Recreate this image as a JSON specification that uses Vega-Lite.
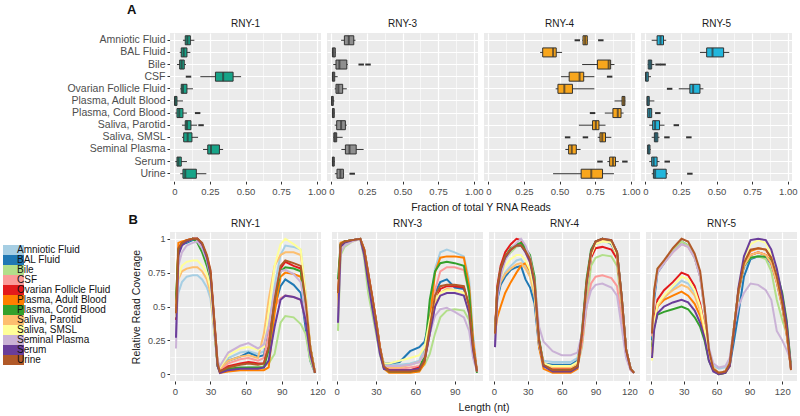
{
  "$schema": "https://vega.github.io/schema/vega-lite/v6.json",
  "background": "white",
  "padding": {"left": 3, "right": 4, "top": 4, "bottom": 1},
  "config": {
    "font": "Liberation Sans",
    "view": {"fill": "#EBEBEB", "stroke": null},
    "axis": {"domain": false, "gridColor": "#FFFFFF", "tickColor": "#333333", "tickSize": 3, "labelColor": "#4D4D4D", "labelFontSize": 9.5, "labelPadding": 2, "titleFontSize": 10.5, "titleFontWeight": "normal", "titleColor": "#1A1A1A"},
    "header": {"labelFontSize": 10, "labelColor": "#1A1A1A", "labelPadding": 4, "titleFontSize": 10.5, "titleFontWeight": "normal", "titleColor": "#1A1A1A"},
    "title": {"fontSize": 13, "fontWeight": "bold", "color": "#111111"},
    "concat": {"spacing": 0}
  },
  "datasets": {
    "boxes": [
      {"rna": "RNY-1", "fluid": "Amniotic Fluid", "lo": 0.061, "q1": 0.077, "med": 0.092, "q3": 0.113, "hi": 0.141, "outs": []},
      {"rna": "RNY-1", "fluid": "BAL Fluid", "lo": 0.038, "q1": 0.049, "med": 0.066, "q3": 0.089, "hi": 0.113, "outs": []},
      {"rna": "RNY-1", "fluid": "Bile", "lo": 0.019, "q1": 0.038, "med": 0.052, "q3": 0.07, "hi": 0.082, "outs": []},
      {"rna": "RNY-1", "fluid": "CSF", "lo": 0.183, "q1": 0.289, "med": 0.343, "q3": 0.413, "hi": 0.469, "outs": [0.1]},
      {"rna": "RNY-1", "fluid": "Ovarian Follicle Fluid", "lo": 0.042, "q1": 0.049, "med": 0.061, "q3": 0.089, "hi": 0.131, "outs": []},
      {"rna": "RNY-1", "fluid": "Plasma, Adult Blood", "lo": 0.0, "q1": 0.002, "med": 0.008, "q3": 0.019, "hi": 0.061, "outs": []},
      {"rna": "RNY-1", "fluid": "Plasma, Cord Blood", "lo": 0.007, "q1": 0.019, "med": 0.035, "q3": 0.061, "hi": 0.089, "outs": [0.164]},
      {"rna": "RNY-1", "fluid": "Saliva, Parotid", "lo": 0.054, "q1": 0.077, "med": 0.089, "q3": 0.117, "hi": 0.16, "outs": [0.188]},
      {"rna": "RNY-1", "fluid": "Saliva, SMSL", "lo": 0.054, "q1": 0.066, "med": 0.094, "q3": 0.124, "hi": 0.167, "outs": []},
      {"rna": "RNY-1", "fluid": "Seminal Plasma", "lo": 0.202, "q1": 0.235, "med": 0.258, "q3": 0.317, "hi": 0.343, "outs": []},
      {"rna": "RNY-1", "fluid": "Serum", "lo": 0.007, "q1": 0.019, "med": 0.03, "q3": 0.049, "hi": 0.089, "outs": []},
      {"rna": "RNY-1", "fluid": "Urine", "lo": 0.042, "q1": 0.061, "med": 0.077, "q3": 0.155, "hi": 0.225, "outs": []},
      {"rna": "RNY-3", "fluid": "Amniotic Fluid", "lo": 0.069, "q1": 0.092, "med": 0.123, "q3": 0.158, "hi": 0.17, "outs": []},
      {"rna": "RNY-3", "fluid": "BAL Fluid", "lo": 0.005, "q1": 0.008, "med": 0.015, "q3": 0.028, "hi": 0.03, "outs": []},
      {"rna": "RNY-3", "fluid": "Bile", "lo": 0.014, "q1": 0.033, "med": 0.057, "q3": 0.109, "hi": 0.116, "outs": [0.21, 0.258]},
      {"rna": "RNY-3", "fluid": "CSF", "lo": 0.005, "q1": 0.008, "med": 0.012, "q3": 0.024, "hi": 0.045, "outs": []},
      {"rna": "RNY-3", "fluid": "Ovarian Follicle Fluid", "lo": 0.024, "q1": 0.033, "med": 0.05, "q3": 0.08, "hi": 0.109, "outs": []},
      {"rna": "RNY-3", "fluid": "Plasma, Adult Blood", "lo": 0.0, "q1": 0.002, "med": 0.006, "q3": 0.014, "hi": 0.022, "outs": []},
      {"rna": "RNY-3", "fluid": "Plasma, Cord Blood", "lo": 0.005, "q1": 0.008, "med": 0.012, "q3": 0.021, "hi": 0.024, "outs": []},
      {"rna": "RNY-3", "fluid": "Saliva, Parotid", "lo": 0.024, "q1": 0.038, "med": 0.069, "q3": 0.099, "hi": 0.109, "outs": []},
      {"rna": "RNY-3", "fluid": "Saliva, SMSL", "lo": 0.014, "q1": 0.018, "med": 0.026, "q3": 0.038, "hi": 0.08, "outs": []},
      {"rna": "RNY-3", "fluid": "Seminal Plasma", "lo": 0.071, "q1": 0.099, "med": 0.128, "q3": 0.175, "hi": 0.227, "outs": []},
      {"rna": "RNY-3", "fluid": "Serum", "lo": 0.005, "q1": 0.008, "med": 0.012, "q3": 0.021, "hi": 0.024, "outs": []},
      {"rna": "RNY-3", "fluid": "Urine", "lo": 0.025, "q1": 0.04, "med": 0.064, "q3": 0.085, "hi": 0.09, "outs": [0.147]},
      {"rna": "RNY-4", "fluid": "Amniotic Fluid", "lo": 0.66, "q1": 0.665, "med": 0.68, "q3": 0.695, "hi": 0.7, "outs": [0.625, 0.79]},
      {"rna": "RNY-4", "fluid": "BAL Fluid", "lo": 0.364, "q1": 0.382, "med": 0.455, "q3": 0.477, "hi": 0.518, "outs": []},
      {"rna": "RNY-4", "fluid": "Bile", "lo": 0.659, "q1": 0.766, "med": 0.845, "q3": 0.859, "hi": 0.886, "outs": []},
      {"rna": "RNY-4", "fluid": "CSF", "lo": 0.511, "q1": 0.568, "med": 0.641, "q3": 0.67, "hi": 0.745, "outs": [0.852]},
      {"rna": "RNY-4", "fluid": "Ovarian Follicle Fluid", "lo": 0.473, "q1": 0.489, "med": 0.534, "q3": 0.591, "hi": 0.745, "outs": []},
      {"rna": "RNY-4", "fluid": "Plasma, Adult Blood", "lo": 0.886, "q1": 0.939, "med": 0.95, "q3": 0.959, "hi": 0.962, "outs": []},
      {"rna": "RNY-4", "fluid": "Plasma, Cord Blood", "lo": 0.818, "q1": 0.875, "med": 0.909, "q3": 0.932, "hi": 0.95, "outs": [0.732]},
      {"rna": "RNY-4", "fluid": "Saliva, Parotid", "lo": 0.636, "q1": 0.732, "med": 0.755, "q3": 0.777, "hi": 0.823, "outs": []},
      {"rna": "RNY-4", "fluid": "Saliva, SMSL", "lo": 0.768, "q1": 0.784, "med": 0.8, "q3": 0.823, "hi": 0.864, "outs": [0.557, 0.682]},
      {"rna": "RNY-4", "fluid": "Seminal Plasma", "lo": 0.541, "q1": 0.564, "med": 0.586, "q3": 0.618, "hi": 0.648, "outs": []},
      {"rna": "RNY-4", "fluid": "Serum", "lo": 0.836, "q1": 0.852, "med": 0.875, "q3": 0.893, "hi": 0.916, "outs": [0.784, 0.959]},
      {"rna": "RNY-4", "fluid": "Urine", "lo": 0.455, "q1": 0.652, "med": 0.723, "q3": 0.802, "hi": 0.882, "outs": []},
      {"rna": "RNY-5", "fluid": "Amniotic Fluid", "lo": 0.045, "q1": 0.083, "med": 0.107, "q3": 0.128, "hi": 0.147, "outs": []},
      {"rna": "RNY-5", "fluid": "BAL Fluid", "lo": 0.384, "q1": 0.431, "med": 0.472, "q3": 0.55, "hi": 0.59, "outs": []},
      {"rna": "RNY-5", "fluid": "Bile", "lo": 0.017, "q1": 0.021, "med": 0.033, "q3": 0.045, "hi": 0.064, "outs": [0.09, 0.125]},
      {"rna": "RNY-5", "fluid": "CSF", "lo": 0.0, "q1": 0.002, "med": 0.008, "q3": 0.021, "hi": 0.04, "outs": []},
      {"rna": "RNY-5", "fluid": "Ovarian Follicle Fluid", "lo": 0.235, "q1": 0.313, "med": 0.336, "q3": 0.384, "hi": 0.408, "outs": [0.171]},
      {"rna": "RNY-5", "fluid": "Plasma, Adult Blood", "lo": 0.012, "q1": 0.012, "med": 0.018, "q3": 0.028, "hi": 0.064, "outs": []},
      {"rna": "RNY-5", "fluid": "Plasma, Cord Blood", "lo": 0.017, "q1": 0.017, "med": 0.03, "q3": 0.045, "hi": 0.045, "outs": [0.088]},
      {"rna": "RNY-5", "fluid": "Saliva, Parotid", "lo": 0.028, "q1": 0.052, "med": 0.069, "q3": 0.1, "hi": 0.135, "outs": [0.218]},
      {"rna": "RNY-5", "fluid": "Saliva, SMSL", "lo": 0.045, "q1": 0.064, "med": 0.075, "q3": 0.088, "hi": 0.1, "outs": [0.152, 0.306]},
      {"rna": "RNY-5", "fluid": "Seminal Plasma", "lo": 0.017, "q1": 0.017, "med": 0.022, "q3": 0.033, "hi": 0.038, "outs": []},
      {"rna": "RNY-5", "fluid": "Serum", "lo": 0.028, "q1": 0.045, "med": 0.059, "q3": 0.083, "hi": 0.1, "outs": [0.154]},
      {"rna": "RNY-5", "fluid": "Urine", "lo": 0.045, "q1": 0.057, "med": 0.069, "q3": 0.147, "hi": 0.159, "outs": [0.313]}
    ],
    "lines": [
      {"rna": "RNY-1", "fluid": "Amniotic Fluid", "x": [1,3,6,10,15,19,23,27,30,33,36,38,45,55,62,70,75,79,84,89,93,100,106,110,114,118], "y": [0.45,0.6,0.68,0.72,0.73,0.73,0.70,0.64,0.56,0.32,0.08,0.05,0.12,0.16,0.17,0.15,0.17,0.35,0.65,0.88,0.95,0.94,0.92,0.6,0.2,0.01]},
      {"rna": "RNY-1", "fluid": "BAL Fluid", "x": [1,3,6,10,15,19,23,27,30,33,36,38,45,55,62,70,75,79,84,89,93,100,106,110,114,118], "y": [0.4,0.9,0.96,0.97,0.99,1.0,0.95,0.86,0.74,0.4,0.08,0.03,0.1,0.13,0.16,0.13,0.14,0.3,0.5,0.65,0.7,0.66,0.6,0.35,0.1,0.01]},
      {"rna": "RNY-1", "fluid": "Bile", "x": [1,3,6,10,15,19,23,27,30,33,36,38,45,55,62,70,75,79,84,89,93,100,106,110,114,118], "y": [0.5,0.92,0.96,0.98,1.0,0.99,0.94,0.84,0.72,0.38,0.07,0.02,0.03,0.04,0.05,0.05,0.06,0.08,0.15,0.38,0.43,0.42,0.37,0.3,0.1,0.01]},
      {"rna": "RNY-1", "fluid": "CSF", "x": [1,3,6,10,15,19,23,27,30,33,36,38,45,55,62,70,75,79,84,89,93,100,106,110,114,118], "y": [0.45,0.92,0.96,0.98,1.0,1.0,0.95,0.85,0.73,0.4,0.08,0.03,0.08,0.11,0.12,0.1,0.12,0.3,0.5,0.56,0.58,0.57,0.55,0.4,0.15,0.01]},
      {"rna": "RNY-1", "fluid": "Ovarian Follicle Fluid", "x": [1,3,6,10,15,19,23,27,30,33,36,38,45,55,62,70,75,79,84,89,93,100,106,110,114,118], "y": [0.4,0.93,0.97,0.99,1.0,1.0,0.96,0.87,0.76,0.42,0.08,0.02,0.06,0.08,0.09,0.08,0.08,0.2,0.55,0.78,0.83,0.8,0.78,0.55,0.2,0.01]},
      {"rna": "RNY-1", "fluid": "Plasma, Adult Blood", "x": [1,3,6,10,15,19,23,27,30,33,36,38,45,55,62,70,75,79,84,89,93,100,106,110,114,118], "y": [0.5,0.97,0.98,0.99,1.0,1.0,0.96,0.86,0.74,0.4,0.06,0.01,0.02,0.03,0.03,0.03,0.03,0.05,0.45,0.72,0.75,0.74,0.72,0.5,0.2,0.01]},
      {"rna": "RNY-1", "fluid": "Plasma, Cord Blood", "x": [1,3,6,10,15,19,23,27,30,33,36,38,45,55,62,70,75,79,84,89,93,100,106,110,114,118], "y": [0.55,0.92,0.96,0.98,1.0,0.97,0.9,0.8,0.7,0.36,0.06,0.02,0.04,0.05,0.05,0.05,0.05,0.18,0.55,0.76,0.79,0.78,0.76,0.5,0.2,0.01]},
      {"rna": "RNY-1", "fluid": "Saliva, Parotid", "x": [1,3,6,10,15,19,23,27,30,33,36,38,45,55,62,70,75,79,84,89,93,100,106,110,114,118], "y": [0.52,0.7,0.76,0.78,0.79,0.79,0.76,0.7,0.6,0.34,0.08,0.04,0.1,0.13,0.14,0.12,0.3,0.55,0.8,0.88,0.9,0.9,0.88,0.6,0.2,0.01]},
      {"rna": "RNY-1", "fluid": "Saliva, SMSL", "x": [1,3,6,10,15,19,23,27,30,33,36,38,45,55,62,70,75,79,84,89,93,100,106,110,114,118], "y": [0.42,0.72,0.8,0.83,0.84,0.84,0.8,0.74,0.64,0.36,0.09,0.05,0.14,0.19,0.2,0.18,0.2,0.45,0.8,0.96,1.0,0.96,0.92,0.6,0.2,0.01]},
      {"rna": "RNY-1", "fluid": "Seminal Plasma", "x": [1,3,6,10,15,19,23,27,30,33,36,38,45,55,62,70,75,79,84,89,93,100,106,110,114,118], "y": [0.19,0.8,0.9,0.95,0.97,0.98,0.93,0.84,0.72,0.4,0.1,0.06,0.16,0.21,0.23,0.19,0.22,0.36,0.62,0.76,0.77,0.74,0.68,0.45,0.15,0.01]},
      {"rna": "RNY-1", "fluid": "Serum", "x": [1,3,6,10,15,19,23,27,30,33,36,38,45,55,62,70,75,79,84,89,93,100,106,110,114,118], "y": [0.27,0.88,0.95,0.98,1.0,1.0,0.96,0.86,0.74,0.4,0.06,0.01,0.03,0.04,0.04,0.04,0.05,0.1,0.35,0.55,0.58,0.57,0.55,0.4,0.15,0.01]},
      {"rna": "RNY-1", "fluid": "Urine", "x": [1,3,6,10,15,19,23,27,30,33,36,38,45,55,62,70,75,79,84,89,93,100,106,110,114,118], "y": [0.45,0.93,0.97,0.99,1.0,1.0,0.97,0.88,0.77,0.43,0.08,0.02,0.05,0.07,0.08,0.07,0.08,0.2,0.55,0.8,0.84,0.82,0.8,0.55,0.2,0.01]},
      {"rna": "RNY-3", "fluid": "Amniotic Fluid", "x": [1,3,6,12,18,21,24,27,30,33,36,40,48,56,63,67,71,75,79,84,90,97,101,104,107], "y": [0.5,0.95,0.98,0.99,1.0,0.9,0.72,0.55,0.38,0.18,0.07,0.07,0.07,0.08,0.1,0.2,0.5,0.78,0.9,0.92,0.9,0.87,0.7,0.3,0.02]},
      {"rna": "RNY-3", "fluid": "BAL Fluid", "x": [1,3,6,12,18,21,24,27,30,33,36,40,48,56,63,67,71,75,79,84,90,97,101,104,107], "y": [0.45,0.95,0.98,0.99,1.0,0.88,0.7,0.52,0.36,0.17,0.08,0.08,0.09,0.17,0.2,0.24,0.4,0.6,0.68,0.7,0.64,0.63,0.5,0.2,0.02]},
      {"rna": "RNY-3", "fluid": "Bile", "x": [1,3,6,12,18,21,24,27,30,33,36,40,48,56,63,67,71,75,79,84,90,97,101,104,107], "y": [0.32,0.88,0.94,0.98,1.0,0.85,0.6,0.45,0.3,0.14,0.05,0.03,0.03,0.03,0.04,0.07,0.15,0.3,0.42,0.47,0.48,0.47,0.4,0.15,0.02]},
      {"rna": "RNY-3", "fluid": "CSF", "x": [1,3,6,12,18,21,24,27,30,33,36,40,48,56,63,67,71,75,79,84,90,97,101,104,107], "y": [0.5,0.95,0.98,0.99,1.0,0.9,0.72,0.55,0.38,0.18,0.06,0.04,0.04,0.05,0.06,0.12,0.35,0.62,0.76,0.79,0.79,0.77,0.6,0.25,0.02]},
      {"rna": "RNY-3", "fluid": "Ovarian Follicle Fluid", "x": [1,3,6,12,18,21,24,27,30,33,36,40,48,56,63,67,71,75,79,84,90,97,101,104,107], "y": [0.55,0.96,0.98,0.99,1.0,0.92,0.75,0.58,0.4,0.2,0.06,0.03,0.03,0.03,0.05,0.1,0.3,0.52,0.63,0.65,0.65,0.64,0.5,0.2,0.02]},
      {"rna": "RNY-3", "fluid": "Plasma, Adult Blood", "x": [1,3,6,12,18,21,24,27,30,33,36,40,48,56,63,67,71,75,79,84,90,97,101,104,107], "y": [0.55,0.97,0.98,0.99,1.0,0.92,0.74,0.57,0.4,0.19,0.04,0.01,0.01,0.01,0.02,0.08,0.4,0.75,0.86,0.87,0.87,0.86,0.65,0.25,0.02]},
      {"rna": "RNY-3", "fluid": "Plasma, Cord Blood", "x": [1,3,6,12,18,21,24,27,30,33,36,40,48,56,63,67,71,75,79,84,90,97,101,104,107], "y": [0.7,0.96,0.98,0.99,1.0,0.9,0.72,0.55,0.38,0.17,0.05,0.02,0.02,0.02,0.03,0.15,0.55,0.76,0.82,0.83,0.82,0.8,0.6,0.2,0.01]},
      {"rna": "RNY-3", "fluid": "Saliva, Parotid", "x": [1,3,6,12,18,21,24,27,30,33,36,40,48,56,63,67,71,75,79,84,90,97,101,104,107], "y": [0.5,0.93,0.97,0.99,1.0,0.9,0.72,0.55,0.38,0.18,0.06,0.05,0.05,0.07,0.09,0.15,0.35,0.52,0.6,0.63,0.62,0.6,0.45,0.18,0.02]},
      {"rna": "RNY-3", "fluid": "Saliva, SMSL", "x": [1,3,6,12,18,21,24,27,30,33,36,40,48,56,63,67,71,75,79,84,90,97,101,104,107], "y": [0.45,0.92,0.96,0.98,1.0,0.9,0.72,0.55,0.38,0.18,0.08,0.08,0.1,0.12,0.14,0.2,0.4,0.55,0.6,0.62,0.62,0.6,0.45,0.18,0.02]},
      {"rna": "RNY-3", "fluid": "Seminal Plasma", "x": [1,3,6,12,18,21,24,27,30,33,36,40,48,56,63,67,71,75,79,84,90,97,101,104,107], "y": [0.38,0.9,0.95,0.98,1.0,0.88,0.7,0.5,0.33,0.15,0.06,0.06,0.06,0.07,0.09,0.15,0.3,0.43,0.48,0.49,0.46,0.42,0.32,0.12,0.02]},
      {"rna": "RNY-3", "fluid": "Serum", "x": [1,3,6,12,18,21,24,27,30,33,36,40,48,56,63,67,71,75,79,84,90,97,101,104,107], "y": [0.38,0.94,0.97,0.99,1.0,0.88,0.68,0.5,0.33,0.15,0.04,0.03,0.03,0.03,0.04,0.1,0.3,0.5,0.58,0.6,0.6,0.58,0.45,0.18,0.02]},
      {"rna": "RNY-3", "fluid": "Urine", "x": [1,3,6,12,18,21,24,27,30,33,36,40,48,56,63,67,71,75,79,84,90,97,101,104,107], "y": [0.6,0.96,0.98,0.99,1.0,0.92,0.75,0.58,0.4,0.2,0.06,0.02,0.02,0.02,0.03,0.1,0.35,0.58,0.65,0.66,0.66,0.65,0.5,0.2,0.02]},
      {"rna": "RNY-4", "fluid": "Amniotic Fluid", "x": [1,3,6,10,15,20,24,28,32,36,40,44,52,60,68,74,78,82,86,90,96,104,109,113,117,121,124], "y": [0.3,0.55,0.68,0.75,0.8,0.84,0.85,0.8,0.72,0.58,0.22,0.1,0.09,0.09,0.09,0.12,0.3,0.65,0.88,0.96,0.98,0.97,0.88,0.55,0.18,0.04,0.01]},
      {"rna": "RNY-4", "fluid": "BAL Fluid", "x": [1,3,6,10,15,20,24,28,32,36,40,44,52,60,68,74,78,82,86,90,96,104,109,113,117,121,124], "y": [0.35,0.55,0.66,0.72,0.77,0.79,0.8,0.7,0.64,0.52,0.2,0.08,0.07,0.07,0.07,0.1,0.28,0.62,0.88,0.97,1.0,0.96,0.88,0.55,0.18,0.04,0.01]},
      {"rna": "RNY-4", "fluid": "Bile", "x": [1,3,6,10,15,20,24,28,32,36,40,44,52,60,68,74,78,82,86,90,96,104,109,113,117,121,124], "y": [0.28,0.6,0.75,0.85,0.9,0.94,0.95,0.9,0.83,0.65,0.25,0.07,0.04,0.04,0.05,0.06,0.2,0.5,0.8,0.86,0.88,0.87,0.8,0.5,0.15,0.04,0.01]},
      {"rna": "RNY-4", "fluid": "CSF", "x": [1,3,6,10,15,20,24,28,32,36,40,44,52,60,68,74,78,82,86,90,96,104,109,113,117,121,124], "y": [0.3,0.62,0.77,0.86,0.92,0.96,0.96,0.9,0.82,0.65,0.24,0.07,0.04,0.04,0.04,0.06,0.22,0.5,0.67,0.72,0.73,0.71,0.65,0.4,0.14,0.03,0.01]},
      {"rna": "RNY-4", "fluid": "Ovarian Follicle Fluid", "x": [1,3,6,10,15,20,24,28,32,36,40,44,52,60,68,74,78,82,86,90,96,104,109,113,117,121,124], "y": [0.32,0.65,0.8,0.9,0.96,1.0,0.99,0.92,0.84,0.68,0.24,0.07,0.04,0.04,0.04,0.06,0.28,0.64,0.86,0.93,0.94,0.92,0.85,0.55,0.18,0.04,0.01]},
      {"rna": "RNY-4", "fluid": "Plasma, Adult Blood", "x": [1,3,6,10,15,20,24,28,32,36,40,44,52,60,68,74,78,82,86,90,96,104,109,113,117,121,124], "y": [0.3,0.42,0.5,0.6,0.68,0.75,0.8,0.82,0.76,0.6,0.2,0.04,0.01,0.01,0.01,0.04,0.28,0.66,0.9,0.98,1.0,0.98,0.9,0.58,0.18,0.04,0.01]},
      {"rna": "RNY-4", "fluid": "Plasma, Cord Blood", "x": [1,3,6,10,15,20,24,28,32,36,40,44,52,60,68,74,78,82,86,90,96,104,109,113,117,121,124], "y": [0.3,0.62,0.78,0.87,0.93,0.96,0.97,0.93,0.88,0.72,0.26,0.07,0.03,0.03,0.03,0.06,0.32,0.7,0.92,0.98,1.0,0.98,0.9,0.58,0.18,0.04,0.01]},
      {"rna": "RNY-4", "fluid": "Saliva, Parotid", "x": [1,3,6,10,15,20,24,28,32,36,40,44,52,60,68,74,78,82,86,90,96,104,109,113,117,121,124], "y": [0.28,0.58,0.68,0.74,0.78,0.81,0.82,0.78,0.72,0.58,0.22,0.08,0.05,0.05,0.05,0.08,0.28,0.64,0.88,0.97,0.99,0.97,0.88,0.55,0.18,0.04,0.01]},
      {"rna": "RNY-4", "fluid": "Saliva, SMSL", "x": [1,3,6,10,15,20,24,28,32,36,40,44,52,60,68,74,78,82,86,90,96,104,109,113,117,121,124], "y": [0.28,0.6,0.72,0.8,0.85,0.88,0.88,0.84,0.77,0.62,0.23,0.08,0.06,0.06,0.06,0.09,0.3,0.64,0.88,0.96,0.98,0.97,0.88,0.56,0.18,0.04,0.01]},
      {"rna": "RNY-4", "fluid": "Seminal Plasma", "x": [1,3,6,10,15,20,24,28,32,36,40,44,52,60,68,74,78,82,86,90,96,104,109,113,117,121,124], "y": [0.2,0.55,0.72,0.84,0.92,0.97,1.0,0.95,0.86,0.68,0.35,0.24,0.17,0.14,0.14,0.16,0.3,0.5,0.62,0.66,0.67,0.64,0.58,0.35,0.12,0.03,0.01]},
      {"rna": "RNY-4", "fluid": "Serum", "x": [1,3,6,10,15,20,24,28,32,36,40,44,52,60,68,74,78,82,86,90,96,104,109,113,117,121,124], "y": [0.2,0.6,0.77,0.86,0.92,0.95,0.95,0.9,0.83,0.66,0.24,0.06,0.02,0.02,0.02,0.05,0.3,0.66,0.9,0.98,1.0,0.99,0.9,0.58,0.18,0.04,0.01]},
      {"rna": "RNY-4", "fluid": "Urine", "x": [1,3,6,10,15,20,24,28,32,36,40,44,52,60,68,74,78,82,86,90,96,104,109,113,117,121,124], "y": [0.3,0.63,0.78,0.87,0.92,0.95,0.95,0.91,0.85,0.68,0.25,0.07,0.03,0.03,0.03,0.06,0.3,0.68,0.9,0.98,1.0,0.99,0.9,0.58,0.18,0.04,0.01]},
      {"rna": "RNY-5", "fluid": "Amniotic Fluid", "x": [1,3,6,12,20,28,34,40,45,49,53,57,62,68,72,76,80,85,91,98,105,110,115,120,124,128], "y": [0.15,0.35,0.5,0.56,0.63,0.69,0.67,0.6,0.48,0.32,0.14,0.06,0.04,0.05,0.1,0.35,0.6,0.78,0.85,0.87,0.86,0.8,0.68,0.5,0.3,0.04]},
      {"rna": "RNY-5", "fluid": "BAL Fluid", "x": [1,3,6,12,20,28,34,40,45,49,53,57,62,68,72,76,80,85,91,98,105,110,115,120,124,128], "y": [0.25,0.55,0.75,0.82,0.92,0.98,0.95,0.86,0.72,0.48,0.17,0.04,0.01,0.02,0.06,0.25,0.45,0.72,0.85,0.87,0.86,0.82,0.7,0.52,0.32,0.04]},
      {"rna": "RNY-5", "fluid": "Bile", "x": [1,3,6,12,20,28,34,40,45,49,53,57,62,68,72,76,80,85,91,98,105,110,115,120,124,128], "y": [0.3,0.62,0.78,0.83,0.92,0.98,0.95,0.86,0.73,0.48,0.17,0.04,0.01,0.02,0.08,0.35,0.6,0.8,0.86,0.87,0.85,0.76,0.55,0.4,0.3,0.06]},
      {"rna": "RNY-5", "fluid": "CSF", "x": [1,3,6,12,20,28,34,40,45,49,53,57,62,68,72,76,80,85,91,98,105,110,115,120,124,128], "y": [0.28,0.6,0.76,0.82,0.9,0.96,0.94,0.86,0.72,0.48,0.17,0.04,0.01,0.02,0.08,0.35,0.6,0.8,0.88,0.9,0.88,0.82,0.7,0.52,0.32,0.05]},
      {"rna": "RNY-5", "fluid": "Ovarian Follicle Fluid", "x": [1,3,6,12,20,28,34,40,45,49,53,57,62,68,72,76,80,85,91,98,105,110,115,120,124,128], "y": [0.15,0.4,0.55,0.62,0.68,0.75,0.73,0.65,0.52,0.35,0.15,0.05,0.01,0.02,0.08,0.35,0.62,0.8,0.88,0.9,0.88,0.82,0.68,0.5,0.3,0.04]},
      {"rna": "RNY-5", "fluid": "Plasma, Adult Blood", "x": [1,3,6,12,20,28,34,40,45,49,53,57,62,68,72,76,80,85,91,98,105,110,115,120,124,128], "y": [0.15,0.38,0.5,0.55,0.58,0.61,0.58,0.52,0.43,0.3,0.12,0.03,0.0,0.01,0.06,0.33,0.62,0.82,0.91,0.93,0.92,0.85,0.72,0.52,0.32,0.05]},
      {"rna": "RNY-5", "fluid": "Plasma, Cord Blood", "x": [1,3,6,12,20,28,34,40,45,49,53,57,62,68,72,76,80,85,91,98,105,110,115,120,124,128], "y": [0.2,0.35,0.44,0.46,0.48,0.5,0.48,0.42,0.35,0.25,0.1,0.03,0.0,0.01,0.08,0.35,0.62,0.8,0.86,0.87,0.87,0.84,0.75,0.6,0.4,0.06]},
      {"rna": "RNY-5", "fluid": "Saliva, Parotid", "x": [1,3,6,12,20,28,34,40,45,49,53,57,62,68,72,76,80,85,91,98,105,110,115,120,124,128], "y": [0.15,0.37,0.5,0.57,0.62,0.66,0.64,0.58,0.47,0.32,0.13,0.04,0.01,0.02,0.08,0.35,0.62,0.8,0.88,0.9,0.88,0.82,0.68,0.5,0.3,0.04]},
      {"rna": "RNY-5", "fluid": "Saliva, SMSL", "x": [1,3,6,12,20,28,34,40,45,49,53,57,62,68,72,76,80,85,91,98,105,110,115,120,124,128], "y": [0.1,0.36,0.52,0.58,0.65,0.72,0.7,0.62,0.5,0.34,0.14,0.05,0.01,0.02,0.08,0.35,0.63,0.85,0.96,0.99,0.97,0.88,0.72,0.52,0.32,0.04]},
      {"rna": "RNY-5", "fluid": "Seminal Plasma", "x": [1,3,6,12,20,28,34,40,45,49,53,57,62,68,72,76,80,85,91,98,105,110,115,120,124,128], "y": [0.3,0.6,0.75,0.82,0.9,0.96,0.94,0.86,0.72,0.5,0.2,0.08,0.05,0.06,0.12,0.35,0.5,0.6,0.67,0.66,0.62,0.55,0.32,0.25,0.18,0.1]},
      {"rna": "RNY-5", "fluid": "Serum", "x": [1,3,6,12,20,28,34,40,45,49,53,57,62,68,72,76,80,85,91,98,105,110,115,120,124,128], "y": [0.12,0.33,0.45,0.5,0.53,0.55,0.53,0.47,0.38,0.27,0.1,0.02,0.0,0.01,0.06,0.33,0.64,0.87,0.99,1.0,0.99,0.92,0.78,0.58,0.38,0.04]},
      {"rna": "RNY-5", "fluid": "Urine", "x": [1,3,6,12,20,28,34,40,45,49,53,57,62,68,72,76,80,85,91,98,105,110,115,120,124,128], "y": [0.3,0.62,0.78,0.84,0.93,1.0,0.98,0.89,0.76,0.5,0.18,0.04,0.01,0.02,0.08,0.35,0.62,0.82,0.92,0.93,0.92,0.86,0.72,0.52,0.32,0.03]}
    ]
  },
  "vconcat": [
    {
      "data": {"name": "boxes"},
      "title": {"text": "A", "anchor": "start", "frame": "bounds", "dx": 109, "offset": 2},
      "facet": {"column": {"field": "rna", "type": "nominal", "title": "Fraction of total Y RNA Reads", "header": {"titleOrient": "bottom", "labelOrient": "top", "titlePadding": -3}}},
      "spacing": 6,
      "spec": {
        "width": 151,
        "height": 148,
        "encoding": {
          "y": {"field": "fluid", "type": "nominal", "sort": ["Amniotic Fluid", "BAL Fluid", "Bile", "CSF", "Ovarian Follicle Fluid", "Plasma, Adult Blood", "Plasma, Cord Blood", "Saliva, Parotid", "Saliva, SMSL", "Seminal Plasma", "Serum", "Urine"], "scale": {"paddingInner": 0, "paddingOuter": 0.1}, "axis": {"title": null, "bandPosition": 0.5, "grid": true, "gridWidth": 1.2, "labelFontSize": 10.5, "minExtent": 152}}
        },
        "layer": [
          {
            "mark": {"type": "rule", "color": "#333333", "strokeWidth": 1},
            "encoding": {
              "x": {"field": "lo", "type": "quantitative", "title": null, "scale": {"domain": [-0.03, 1.03], "nice": false, "zero": false}, "axis": {"values": [0, 0.125, 0.25, 0.375, 0.5, 0.625, 0.75, 0.875, 1], "labelExpr": "datum.value == 0 ? '0' : (datum.value * 4 % 1 == 0 ? format(datum.value, '.2f') : '')", "gridWidth": {"condition": {"test": "datum.value * 4 % 1 != 0", "value": 0.6}, "value": 1.2}, "tickOpacity": {"condition": {"test": "datum.value * 4 % 1 != 0", "value": 0}, "value": 1}, "labelOverlap": false, "labelBound": false, "labelFlush": false}},
              "x2": {"field": "hi"}
            }
          },
          {
            "mark": {"type": "bar", "size": 9, "stroke": "#333333", "strokeWidth": 1},
            "encoding": {
              "x": {"field": "q1", "type": "quantitative", "title": null, "axis": {"values": [0, 0.125, 0.25, 0.375, 0.5, 0.625, 0.75, 0.875, 1], "labelExpr": "datum.value == 0 ? '0' : (datum.value * 4 % 1 == 0 ? format(datum.value, '.2f') : '')", "gridWidth": {"condition": {"test": "datum.value * 4 % 1 != 0", "value": 0.6}, "value": 1.2}, "tickOpacity": {"condition": {"test": "datum.value * 4 % 1 != 0", "value": 0}, "value": 1}, "labelOverlap": false, "labelBound": false, "labelFlush": false}},
              "x2": {"field": "q3"},
              "fill": {"field": "rna", "type": "nominal", "scale": {"domain": ["RNY-1", "RNY-3", "RNY-4", "RNY-5"], "range": ["#17A488", "#8F8F8F", "#F8A61C", "#22B6DC"]}, "legend": null}
            }
          },
          {
            "mark": {"type": "tick", "color": "#333333", "thickness": 2, "size": 9},
            "encoding": {"x": {"field": "med", "type": "quantitative", "title": null, "axis": {"values": [0, 0.125, 0.25, 0.375, 0.5, 0.625, 0.75, 0.875, 1], "labelExpr": "datum.value == 0 ? '0' : (datum.value * 4 % 1 == 0 ? format(datum.value, '.2f') : '')", "gridWidth": {"condition": {"test": "datum.value * 4 % 1 != 0", "value": 0.6}, "value": 1.2}, "tickOpacity": {"condition": {"test": "datum.value * 4 % 1 != 0", "value": 0}, "value": 1}, "labelOverlap": false, "labelBound": false, "labelFlush": false}}}
          },
          {
            "transform": [{"flatten": ["outs"]}],
            "mark": {"type": "point", "shape": "stroke", "size": 30, "strokeWidth": 2, "color": "#333333", "filled": false, "opacity": 1},
            "encoding": {"x": {"field": "outs", "type": "quantitative", "title": null, "axis": {"values": [0, 0.125, 0.25, 0.375, 0.5, 0.625, 0.75, 0.875, 1], "labelExpr": "datum.value == 0 ? '0' : (datum.value * 4 % 1 == 0 ? format(datum.value, '.2f') : '')", "gridWidth": {"condition": {"test": "datum.value * 4 % 1 != 0", "value": 0.6}, "value": 1.2}, "tickOpacity": {"condition": {"test": "datum.value * 4 % 1 != 0", "value": 0}, "value": 1}, "labelOverlap": false, "labelBound": false, "labelFlush": false}}}
          }
        ]
      }
    },
    {
      "data": {"name": "lines"},
      "transform": [{"flatten": ["x", "y"]}],
      "title": {"text": "B", "anchor": "start", "frame": "bounds", "dx": -3, "offset": -8},
      "facet": {"column": {"field": "rna", "type": "nominal", "title": "Length (nt)", "header": {"titleOrient": "bottom", "labelOrient": "top", "titlePadding": -3, "labelPadding": 3}}},
      "spacing": 6,
      "resolve": {"scale": {"x": "independent"}},
      "spec": {
        "width": 151,
        "height": 149,
        "mark": {"type": "line", "strokeWidth": 2},
        "encoding": {
          "x": {"field": "x", "type": "quantitative", "scale": {"nice": false, "zero": false, "padding": 6}, "axis": {"title": null, "values": [0, 15, 30, 45, 60, 75, 90, 105, 120], "labelExpr": "datum.value % 30 == 0 ? format(datum.value, 'd') : ''", "gridWidth": {"condition": {"test": "datum.value % 30 != 0", "value": 0.6}, "value": 1.2}, "tickOpacity": {"condition": {"test": "datum.value % 30 != 0", "value": 0}, "value": 1}, "labelOverlap": false, "labelFlush": false}},
          "y": {"field": "y", "type": "quantitative", "title": "Relative Read Coverage", "scale": {"domain": [-0.05, 1.05], "nice": false, "zero": false}, "axis": {"values": [0, 0.125, 0.25, 0.375, 0.5, 0.625, 0.75, 0.875, 1], "labelExpr": "datum.value * 4 % 1 == 0 ? format(datum.value, '~g') : ''", "gridWidth": {"condition": {"test": "datum.value * 4 % 1 != 0", "value": 0.6}, "value": 1.2}, "tickOpacity": {"condition": {"test": "datum.value * 4 % 1 != 0", "value": 0}, "value": 1}, "labelOverlap": false, "labelFontSize": 9, "titlePadding": 6}},
          "color": {"field": "fluid", "type": "nominal", "scale": {"domain": ["Amniotic Fluid", "BAL Fluid", "Bile", "CSF", "Ovarian Follicle Fluid", "Plasma, Adult Blood", "Plasma, Cord Blood", "Saliva, Parotid", "Saliva, SMSL", "Seminal Plasma", "Serum", "Urine"], "range": ["#A6CEE3", "#1F78B4", "#B2DF8A", "#FB9A99", "#E31A1C", "#FF7F00", "#33A02C", "#FDBF6F", "#FFFF99", "#CAB2D6", "#6A3D9A", "#B15928"]}, "legend": {"title": null, "orient": "none", "legendX": -167, "legendY": 212, "symbolType": "M-3,-1.4H3V1.4H-3Z", "symbolSize": 100, "clipHeight": 10, "symbolStrokeColor": "#333333", "symbolStrokeWidth": 1, "labelFontSize": 10, "labelColor": "#111111", "labelOffset": 3, "rowPadding": 0, "labelLimit": 120, "encode": {"symbols": {"update": {"fill": {"scale": "color", "field": "value"}, "fillOpacity": {"value": 1}, "stroke": {"value": "#333333"}, "strokeWidth": {"value": 1}}}}}}
        }
      }
    }
  ]
}
